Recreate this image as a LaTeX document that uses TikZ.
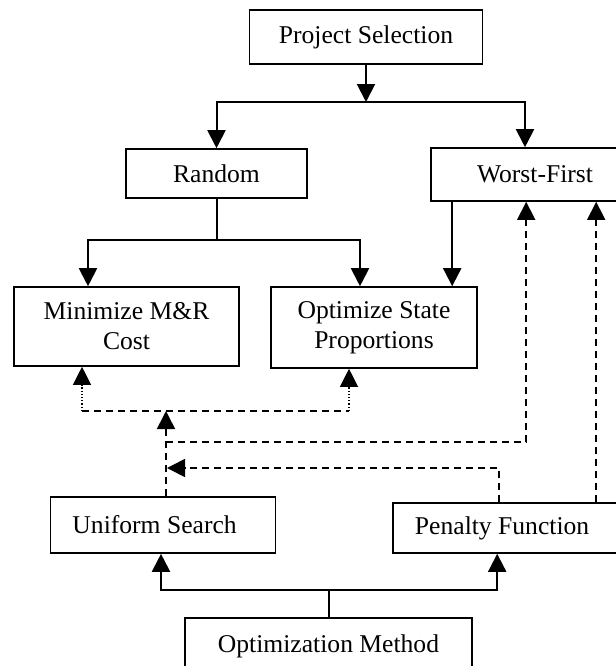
\documentclass[tikz,border=0pt]{standalone}
\usepackage{fontspec}
\setmainfont{Liberation Serif}
\usetikzlibrary{arrows.meta}
\begin{document}
\begin{tikzpicture}[x=0.5pt,y=-0.5pt,
  box/.style={draw,line width=0.8pt,font=\fontsize{12.8}{15}\selectfont,align=center,inner sep=0pt},
  lbox/.style={box,align=flush left,inner xsep=11pt},
  tip/.style={-{Triangle[length=9pt,width=9pt]}},
  flow/.style={line width=1pt},
  dsh/.style={line width=0.8pt,dash pattern=on 3.5pt off 2.5pt},
  dot/.style={line width=0.6pt,dash pattern=on 0.6pt off 1pt}]
\useasboundingbox (0,0) rectangle (616,666);
\node[box,minimum width=116.5pt,minimum height=27pt] (ps) at (366,37) {Project Selection};
\node[box,minimum width=90.5pt,minimum height=24.5pt] (random) at (216.5,173.5) {Random};
\node[box,minimum width=104pt,minimum height=26.5pt] (wf) at (535,174.5) {Worst-First};
\node[box,minimum width=112.5pt,minimum height=39.5pt] (mmc) at (126.5,326.5) {Minimize M\&R\\Cost};
\node[box,minimum width=103pt,minimum height=40.5pt] (osp) at (374,327.5) {Optimize State\\Proportions};
\node[lbox,text width=90.5pt,minimum height=28pt] (us) at (163,525) {Uniform Search};
\node[lbox,text width=103pt,minimum height=25pt] (pf) at (518,528) {Penalty Function};
\node[box,minimum width=143.5pt,minimum height=28pt] (om) at (328.5,646) {Optimization Method};
\coordinate (psj) at (366,102);
\coordinate (rj) at (216.5,240);
\coordinate (objl) at (82,411);
\coordinate (objr) at (349,411);
\coordinate (objj) at (166,411);
\coordinate (wfj) at (166,442);
\coordinate (penj) at (167,468);
\coordinate (omj) at (328.5,590);
\coordinate (wfl) at ([xshift=11pt]wf.south west);
\coordinate (pfr) at ([xshift=102pt]pf.north west);
\draw[flow,tip] (ps.south) -- (psj);
\draw[flow,tip] (psj) -| (random.north);
\draw[flow,tip] (psj) -| ([xshift=-5pt]wf.north);
\draw[flow] (random.south) -- (rj);
\draw[flow,tip] (rj) -| ([xshift=-19.25pt]mmc.north);
\draw[flow,tip] (rj) -| ([xshift=-7pt]osp.north);
\draw[flow,tip] (wfl) -- (wfl |- osp.north);
\draw[dsh] (objl) -- (objr);
\draw[dot,tip] (objl) -- (objl |- mmc.south);
\draw[dot,tip] (objr) -- (objr |- osp.south);
\draw[dsh,tip] ([xshift=1.5pt]us.north) -- (objj);
\draw[dsh,tip] (wfj) -| ([xshift=48pt]wf.south west);
\draw[dsh,tip] ([xshift=53.5pt]pf.north west) |- (penj);
\draw[dsh,tip] (pfr) -- (pfr |- wf.south);
\draw[flow] (om.north) -- (omj);
\draw[flow,tip] (omj) -| ([xshift=-1pt]us.south);
\draw[flow,tip] (omj) -| ([xshift=52.5pt]pf.south west);
\end{tikzpicture}
\end{document}
